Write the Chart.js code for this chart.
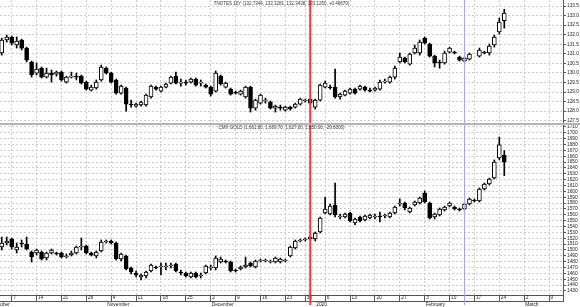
<!DOCTYPE html>
<html><head><meta charset="utf-8">
<script src="https://cdn.jsdelivr.net/npm/chart.js@4.4.1/dist/chart.umd.min.js"></script>
<style>
html,body{margin:0;padding:0;background:#fff;width:580px;height:307px;overflow:hidden;}
#top{position:absolute;left:0;top:0;}
#sep{position:absolute;left:0;top:123px;width:580px;height:2px;background:#b4b4b4;}
#bot{position:absolute;left:0;top:125px;}
</style></head><body>
<canvas id="top" width="580" height="123"></canvas>
<div id="sep"></div>
<canvas id="bot" width="580" height="182"></canvas>
<script>
// ---------- calendar ----------
const holidays = ['2019-12-25', '2020-01-01'];
const firstCalendarDay = '2019-10-01';
const lastCalendarDay = '2020-03-13';
const firstCandleDay = '2019-10-03';
const markerDays = ['2019-12-31', '2020-02-13'];

// ---------- TNOTES 10Y (daily OHLC) ----------
const tnOpen  = [131.04,131.72,131.88,131.46,131.72,131.30,130.57,129.99,130.25,129.78,129.99,129.94,130.04,129.52,129.78,129.83,129.83,129.52,129.10,129.21,129.63,130.25,129.99,129.63,128.94,129.21,128.37,128.26,128.32,128.32,128.74,129.26,129.05,129.26,129.47,129.83,129.47,129.52,129.52,129.68,129.47,129.36,129.26,129.05,129.83,129.26,129.15,129.00,128.89,128.74,129.26,128.16,128.42,128.53,128.47,128.16,128.21,128.05,128.21,128.21,128.37,128.53,128.63,128.21,128.58,129.26,129.26,129.26,128.74,128.84,128.94,129.15,129.15,129.26,129.10,129.10,129.15,129.52,129.52,129.78,130.57,130.78,130.46,131.04,131.04,131.82,131.51,130.88,130.57,130.52,131.09,131.09,130.83,130.62,130.72,null,130.88,131.09,131.04,131.46,132.14,132.7344];
const tnHigh  = [131.82,131.98,131.93,131.88,131.77,131.35,130.62,130.52,130.31,130.25,130.15,130.10,130.10,129.83,130.04,129.99,129.89,129.57,129.36,129.63,130.41,130.31,130.04,129.68,129.36,129.26,128.58,128.42,128.53,128.89,129.36,129.31,129.31,129.47,129.83,130.04,129.68,129.63,129.73,129.73,129.63,129.42,129.31,130.10,129.89,129.52,129.21,129.05,129.10,129.31,129.31,128.63,128.89,128.68,128.53,128.32,128.32,128.26,128.26,128.42,128.68,128.63,128.68,128.63,129.42,129.57,129.36,130.20,128.94,129.10,129.21,129.21,129.36,129.31,129.21,129.26,129.63,129.68,129.83,130.36,131.04,130.83,131.04,131.46,131.72,131.88,131.56,130.93,130.67,131.14,131.35,131.14,130.88,130.83,131.04,null,131.30,131.14,131.51,131.98,132.87,133.3281];
const tnLow   = [130.93,131.61,131.46,131.30,131.20,130.57,129.78,129.89,129.73,129.73,129.52,129.83,129.57,129.47,129.73,129.63,129.42,129.10,129.05,129.15,129.57,129.94,129.47,128.89,128.89,128.00,128.21,128.21,128.26,128.26,128.68,129.10,129.00,129.21,129.42,129.42,129.31,129.36,129.47,129.31,129.31,129.21,128.79,129.00,129.36,129.21,128.84,128.89,128.84,128.68,127.95,128.05,128.37,128.42,128.11,127.95,128.05,128.00,128.05,128.16,128.32,128.47,128.37,128.11,128.53,129.21,129.15,128.68,128.63,128.79,128.89,128.89,129.10,129.05,129.00,129.05,129.10,129.47,129.47,129.68,130.52,130.52,130.41,130.99,130.93,131.51,130.83,130.31,130.25,130.46,131.04,130.99,130.62,130.57,130.67,null,130.83,130.99,130.93,131.35,132.03,132.3438];
const tnClose = [131.72,131.88,131.56,131.67,131.30,130.67,129.89,130.20,129.78,129.99,129.89,130.04,129.63,129.78,129.83,129.78,129.47,129.15,129.26,129.52,130.31,129.99,129.52,128.94,129.31,128.37,128.32,128.37,128.47,128.84,129.31,129.15,129.26,129.42,129.78,129.47,129.52,129.47,129.68,129.36,129.52,129.26,128.89,129.99,129.42,129.47,128.89,128.94,129.05,129.26,128.16,128.58,128.84,128.58,128.16,128.26,128.16,128.21,128.11,128.37,128.63,128.58,128.42,128.58,129.36,129.47,129.21,128.74,128.89,129.05,129.15,128.94,129.31,129.10,129.05,129.21,129.52,129.57,129.78,130.25,130.83,130.57,130.99,131.30,131.61,131.56,130.88,130.52,130.52,131.04,131.30,131.04,130.67,130.78,130.99,null,131.20,131.04,131.41,131.88,132.66,133.1250];
const tnTickLabels = ['127.5','128.0','128.5','129.0','129.5','130.0','130.5','131.0','131.5','132.0','132.5','133.0','133.5'];

// ---------- CMX GOLD (daily OHLC) ----------
const gcOpen  = [1505.1,1512.0,1518.8,1500.0,1512.0,1510.2,1496.6,1494.9,1496.6,1486.3,1494.9,1494.9,1494.9,1488.0,1491.5,1494.9,1505.1,1506.8,1494.9,1489.8,1498.3,1513.7,1515.4,1512.0,1484.6,1489.8,1469.3,1460.7,1453.9,1455.6,1464.1,1471.0,1471.0,1471.0,1472.7,1476.1,1462.4,1460.7,1453.9,1460.7,1455.6,1460.7,1469.3,1469.3,1479.5,1481.2,1479.5,1465.9,1467.6,1471.0,1477.8,1471.0,1481.2,1481.2,1479.5,1479.5,1479.5,1481.2,1489.8,1503.4,1515.4,1517.1,1518.8,1518.8,1530.7,1563.2,1561.5,1576.8,1556.3,1556.3,1563.2,1546.1,1556.3,1551.2,1554.6,1556.3,1558.1,1558.1,1556.3,1563.2,1578.5,1580.2,1564.9,1576.8,1580.2,1597.3,1580.2,1556.3,1559.8,1568.3,1575.1,1573.4,1570.0,1570.0,1578.5,1585.4,1583.7,1604.2,1612.7,1622.9,1657.1,1661.8];
const gcHigh  = [1522.2,1522.2,1520.5,1512.0,1517.1,1522.2,1498.3,1501.7,1498.3,1496.6,1501.7,1496.6,1496.6,1493.2,1498.3,1506.8,1520.5,1508.5,1496.6,1498.3,1517.1,1517.1,1517.1,1513.7,1494.9,1491.5,1471.0,1464.1,1459.0,1464.1,1476.1,1472.7,1477.8,1477.8,1477.8,1477.8,1465.9,1462.4,1462.4,1462.4,1460.7,1474.4,1474.4,1489.8,1488.0,1482.9,1481.2,1467.6,1472.7,1488.0,1479.5,1482.9,1484.6,1484.6,1482.9,1488.0,1486.3,1484.6,1506.8,1517.1,1518.8,1520.5,1523.9,1530.7,1556.3,1590.5,1578.5,1614.4,1561.5,1563.2,1564.9,1554.6,1558.1,1559.8,1561.5,1561.5,1564.9,1561.5,1564.9,1575.1,1587.1,1582.0,1573.4,1583.7,1590.5,1600.7,1582.0,1563.2,1571.7,1575.1,1582.0,1575.1,1571.7,1580.2,1588.8,1587.1,1605.9,1614.4,1622.9,1653.7,1692.9,1669.7];
const gcLow   = [1500.0,1508.5,1501.7,1494.9,1505.1,1500.0,1479.5,1491.5,1482.9,1482.9,1493.2,1491.5,1486.3,1486.3,1489.8,1493.2,1500.0,1493.2,1489.8,1486.3,1496.6,1512.0,1510.2,1482.9,1481.2,1465.9,1459.0,1453.9,1448.8,1452.2,1462.4,1467.6,1457.3,1465.9,1469.3,1462.4,1457.3,1453.9,1452.2,1452.2,1452.2,1459.0,1465.9,1465.9,1477.8,1477.8,1462.4,1462.4,1465.9,1469.3,1471.0,1469.3,1479.5,1479.5,1477.8,1477.8,1477.8,1479.5,1488.0,1501.7,1513.7,1515.4,1517.1,1515.4,1529.0,1561.5,1559.8,1556.3,1552.9,1554.6,1547.8,1542.7,1547.8,1549.5,1552.9,1552.9,1547.8,1554.6,1554.6,1561.5,1575.1,1568.3,1563.2,1575.1,1578.5,1580.2,1552.9,1552.9,1558.1,1566.6,1573.4,1568.3,1566.6,1568.3,1576.8,1582.0,1582.0,1602.4,1611.0,1621.2,1653.7,1627.0];
const gcClose = [1512.0,1515.4,1505.1,1505.1,1510.2,1501.7,1488.0,1500.0,1484.6,1494.9,1500.0,1493.2,1488.0,1489.8,1494.9,1505.1,1506.8,1494.9,1491.5,1496.6,1513.7,1515.4,1512.0,1484.6,1493.2,1467.6,1462.4,1457.3,1457.3,1462.4,1474.4,1469.3,1472.7,1472.7,1474.4,1464.1,1460.7,1455.6,1460.7,1453.9,1457.3,1472.7,1471.0,1486.3,1484.6,1479.5,1464.1,1464.1,1471.0,1474.4,1472.7,1481.2,1482.9,1482.9,1481.2,1486.3,1484.6,1482.9,1505.1,1515.4,1517.1,1518.8,1522.2,1529.0,1554.6,1570.0,1575.1,1559.8,1558.1,1561.5,1549.5,1552.9,1549.5,1558.1,1559.8,1558.1,1556.3,1559.8,1563.2,1573.4,1580.2,1571.7,1571.7,1582.0,1588.8,1582.0,1554.6,1561.5,1570.0,1573.4,1580.2,1570.0,1568.3,1578.5,1587.1,1583.7,1604.2,1612.7,1621.2,1650.2,1679.6,1650.0];
const gcTickLabels = ['1430','1440','1450','1460','1470','1480','1490','1500','1510','1520','1530','1540','1550','1560','1570','1580','1590','1600','1610','1620','1630','1640','1650','1660','1670','1680','1690','1700','1710'];

const tnTitle = 'TNOTES 10Y (132.7344, 133.3281, 132.3438, 133.1250, +0.46870)';
const gcTitle = 'CMX GOLD (1,661.80, 1,669.70, 1,627.00, 1,650.00, -29.6000)';

// ---------- derived calendar ----------
function buildTradingDays() {
  const out = [];
  let t = Date.parse(firstCalendarDay + 'T00:00:00Z');
  const end = Date.parse(lastCalendarDay + 'T00:00:00Z');
  while (t <= end) {
    const d = new Date(t);
    const wd = d.getUTCDay();
    const s = d.toISOString().slice(0, 10);
    if (wd > 0 && wd < 6 && !holidays.includes(s)) out.push(s);
    t += 86400000;
  }
  return out;
}
const tradingDays = buildTradingDays();
const candleStart = tradingDays.indexOf(firstCandleDay);
const weekTicks = tradingDays.map((d, i) => ({d, i})).filter(o => new Date(o.d + 'T00:00:00Z').getUTCDay() === 1);
const monthTicks = tradingDays.map((d, i) => ({d, i})).filter((o, k, a) => k === 0 || a[k - 1].d.slice(5, 7) !== o.d.slice(5, 7));
const monthNames = ['January','February','March','April','May','June','July','August','September','October','November','December'];
const monthLabel = d => (+d.slice(5, 7) === 1 ? d.slice(0, 4) : monthNames[+d.slice(5, 7) - 1]);

const X_MIN = 1.65, X_MAX = 114.8;
const FONT = 'Liberation Sans';
const GRID = '#cccccc';
const AXIS = '#555555';
const TXT = '#222222';
Chart.defaults.font.family = FONT;

function candleSets(O, H, L, C) {
  const wick = [], body = [], fill = [];
  O.forEach((o, k) => {
    if (o == null) return;
    const x = candleStart + k;
    wick.push({x, y: [L[k], H[k]]});
    body.push({x, y: [o, C[k]]});
    fill.push(C[k] >= o ? '#ffffff' : '#000000');
  });
  return [
    {data: wick, backgroundColor: '#000000', borderWidth: 0, barThickness: 1, grouped: false, order: 2},
    {data: body, backgroundColor: fill, borderColor: '#000000', borderWidth: 1, borderSkipped: false,
     barThickness: 4, grouped: false, order: 1, minBarLength: 1}
  ];
}

const titlePlugin = {
  id: 'panelTitle',
  afterDraw(chart, args, opts) {
    const {ctx, chartArea} = chart;
    ctx.save();
    ctx.font = '4.5px "' + FONT + '"';
    ctx.fillStyle = '#333';
    ctx.textAlign = 'center';
    ctx.textBaseline = 'middle';
    ctx.fillText(opts.text, (chartArea.left + chartArea.right) / 2, chartArea.top + opts.y);
    ctx.restore();
  }
};
const markerPlugin = {
  id: 'markers',
  afterDatasetsDraw(chart, args, opts) {
    const {ctx} = chart;
    const xs = chart.scales.x;
    const colors = ['#ff3333', '#a4a4f2'];
    const widths = [2, 1];
    markerDays.forEach((d, k) => {
      const px = xs.getPixelForValue(tradingDays.indexOf(d));
      ctx.save();
      ctx.strokeStyle = colors[k];
      ctx.lineWidth = widths[k];
      ctx.beginPath();
      ctx.moveTo(px, 0);
      ctx.lineTo(px, opts.bottom);
      ctx.stroke();
      ctx.restore();
    });
  }
};

function yAxis(min, max, labels, dec) {
  return {
    type: 'linear', position: 'right', min, max, bounds: 'data', beginAtZero: false,
    afterBuildTicks: s => { s.ticks = labels.map(v => ({value: parseFloat(v)})); },
    ticks: {autoSkip: false, padding: 1, color: TXT, font: {family: FONT, size: 4.8},
            callback: v => v.toFixed(dec)},
    grid: {color: GRID, tickColor: AXIS, tickLength: 3},
    border: {display: true, color: AXIS, dash: [2, 2]},
    afterFit: s => { s.width = 17; s.paddingTop = 0; s.paddingBottom = 0; }
  };
}

const baseOpts = {
  responsive: false, animation: false, devicePixelRatio: 1,
  layout: {padding: 0},
  events: [],
};

// top panel
new Chart(document.getElementById('top'), {
  type: 'bar',
  data: {datasets: candleSets(tnOpen, tnHigh, tnLow, tnClose)},
  options: Object.assign({}, baseOpts, {
    plugins: {legend: {display: false}, tooltip: {enabled: false},
              panelTitle: {text: tnTitle, y: 4}, markers: {bottom: 123}},
    scales: {
      x: {type: 'linear', min: X_MIN, max: X_MAX, bounds: 'data', offset: false, position: 'bottom',
          afterBuildTicks: s => { s.ticks = weekTicks.map(t => ({value: t.i})); },
          ticks: {display: false},
          grid: {color: GRID, drawTicks: false, offset: false},
          border: {display: false, dash: [2, 2]},
          afterFit: s => { s.height = 0; s.paddingLeft = 0; s.paddingRight = 0; }},
      y: yAxis(127.38, 133.814, tnTickLabels, 1)
    }
  }),
  plugins: [titlePlugin, markerPlugin]
});

// bottom panel
new Chart(document.getElementById('bot'), {
  type: 'bar',
  data: {datasets: candleSets(gcOpen, gcHigh, gcLow, gcClose)},
  options: Object.assign({}, baseOpts, {
    plugins: {legend: {display: false}, tooltip: {enabled: false},
              panelTitle: {text: gcTitle, y: 2.5}, markers: {bottom: 180}},
    scales: {
      x: {type: 'linear', min: X_MIN, max: X_MAX, bounds: 'data', offset: false, position: 'bottom', weight: 0,
          afterBuildTicks: s => { s.ticks = weekTicks.map(t => ({value: t.i})).concat([{value: X_MAX}]); },
          ticks: {autoSkip: false, maxRotation: 0, minRotation: 0, align: 'start', padding: -6, labelOffset: 1.5,
                  color: TXT, font: {family: FONT, size: 4.8},
                  callback: (v, idx) => (weekTicks[idx] ? String(+weekTicks[idx].d.slice(8)) : '')},
          grid: {color: GRID, tickColor: AXIS, tickLength: 6, offset: false},
          border: {display: true, color: AXIS, dash: [2, 2]},
          afterFit: s => { s.height = 6; s.paddingLeft = 0; s.paddingRight = 0; }},
      x2: {type: 'linear', axis: 'x', min: X_MIN, max: X_MAX, bounds: 'data', offset: false, position: 'bottom', weight: 1,
          afterBuildTicks: s => { s.ticks = monthTicks.map(t => ({value: t.i})); },
          ticks: {autoSkip: false, maxRotation: 0, minRotation: 0, align: 'start', padding: 0.3, labelOffset: 1,
                  color: TXT, font: {family: FONT, size: 4.8},
                  callback: (v, idx) => (monthTicks[idx] ? monthLabel(monthTicks[idx].d) : '')},
          grid: {display: false, drawTicks: false, offset: false},
          border: {display: true, color: AXIS},
          afterFit: s => { s.height = 6; s.paddingLeft = 0; s.paddingRight = 0; }},
      y: yAxis(1423.17, 1713.41, gcTickLabels, 0)
    }
  }),
  plugins: [titlePlugin, markerPlugin]
});
</script></body></html>
